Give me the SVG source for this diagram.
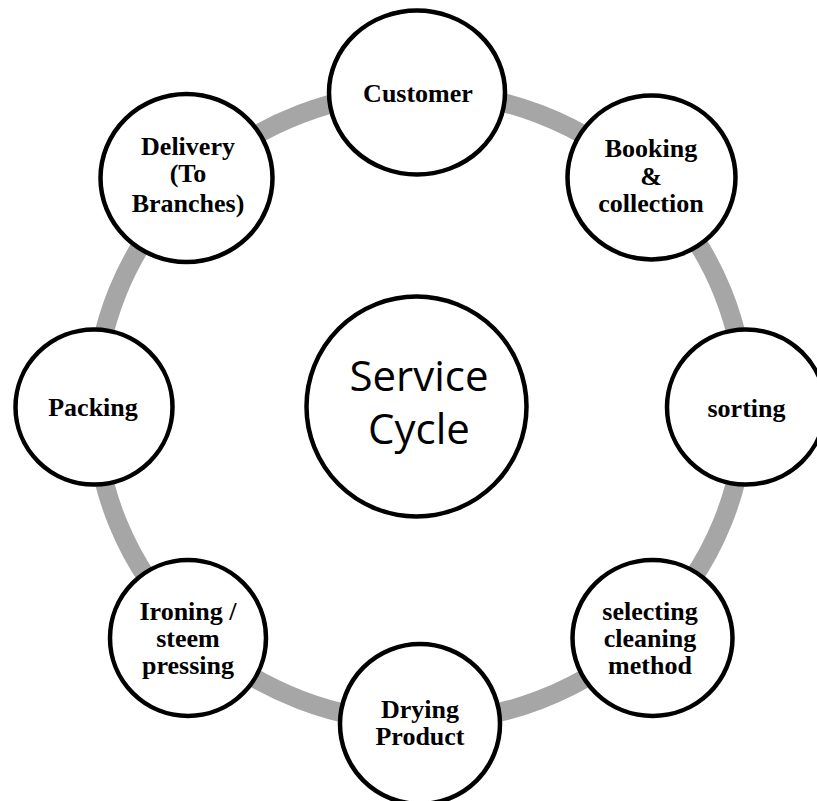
<svg xmlns="http://www.w3.org/2000/svg" width="817" height="801" viewBox="0 0 817 801">
  <style>
    .ring { fill: none; stroke: #a6a6a6; stroke-width: 19; }
    .node { fill: #ffffff; stroke: #000000; stroke-width: 4.5; }
    .lbl { font-family: "Liberation Serif", "Times New Roman", serif; font-weight: bold; font-size: 26px; fill: #000000; text-anchor: middle; }
    .hub { font-family: "Open Sans", "Noto Sans", sans-serif; font-size: 42px; fill: #000000; text-anchor: middle; }
  </style>
  <rect width="817" height="801" fill="#ffffff"/>

  <!-- the cycle ring linking every stage -->
  <g id="connectors">
    <ellipse class="ring" cx="420" cy="407" rx="325" ry="315"/>
  </g>

  <g id="hub">
    <circle class="node" cx="416.5" cy="406.5" r="110"/>
    <text class="hub" x="419" y="391">Service</text>
    <text class="hub" x="419" y="444">Cycle</text>
  </g>

  <g id="customer">
    <ellipse class="node" cx="417" cy="92.5" rx="88" ry="82"/>
    <text class="lbl" x="418" y="102">Customer</text>
  </g>

  <g id="booking">
    <ellipse class="node" cx="651.5" cy="177.5" rx="84" ry="82"/>
    <text class="lbl" x="651" y="157">Booking</text>
    <text class="lbl" x="651" y="185">&amp;</text>
    <text class="lbl" x="651" y="212">collection</text>
  </g>

  <g id="sorting">
    <ellipse class="node" cx="746" cy="407" rx="79" ry="77.5"/>
    <text class="lbl" x="746.5" y="417">sorting</text>
  </g>

  <g id="selecting">
    <ellipse class="node" cx="652.5" cy="638" rx="80" ry="78"/>
    <text class="lbl" x="650" y="620">selecting</text>
    <text class="lbl" x="650" y="647">cleaning</text>
    <text class="lbl" x="650" y="674">method</text>
  </g>

  <g id="drying">
    <ellipse class="node" cx="420" cy="724" rx="80" ry="80"/>
    <text class="lbl" x="420" y="718">Drying</text>
    <text class="lbl" x="420" y="745">Product</text>
  </g>

  <g id="ironing">
    <ellipse class="node" cx="188" cy="638" rx="78" ry="78"/>
    <text class="lbl" x="188" y="620">Ironing /</text>
    <text class="lbl" x="188" y="647">steem</text>
    <text class="lbl" x="188" y="674">pressing</text>
  </g>

  <g id="packing">
    <ellipse class="node" cx="94" cy="407" rx="78.5" ry="77.5"/>
    <text class="lbl" x="93" y="416">Packing</text>
  </g>

  <g id="delivery">
    <ellipse class="node" cx="186.5" cy="178" rx="86" ry="84"/>
    <text class="lbl" x="188" y="155">Delivery</text>
    <text class="lbl" x="188" y="182">(To</text>
    <text class="lbl" x="188" y="212">Branches)</text>
  </g>
</svg>
